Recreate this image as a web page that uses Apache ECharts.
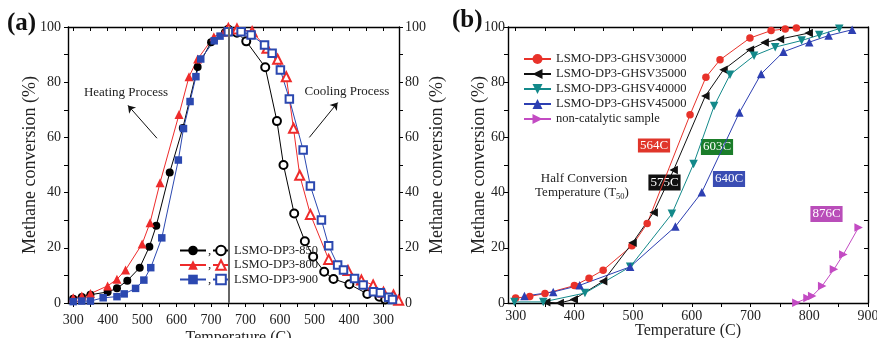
<!DOCTYPE html>
<html><head><meta charset="utf-8">
<script src="https://cdn.jsdelivr.net/npm/echarts@6/dist/echarts.min.js"></script>
<style>html,body{margin:0;padding:0;background:#fff}#c{width:877px;height:338px}</style>
</head><body><div id="c"></div>
<script>
// ---------- Panel (a): heating (filled) ----------
const heat850T = [300,325,350,400,427,457,493,521,541,580,618,661,700,740];
const heat850V = [1.5,2.2,3.0,4.0,5.3,8.1,12.8,20.4,28.0,47.3,63.4,85.5,94.5,98.0];
const heat800T = [300,325,350,400,427,452,500,523,552,607,636,661,708,737];
const heat800V = [1.9,2.5,3.4,6.2,8.6,12.0,21.4,29.1,43.6,68.3,82.0,88.4,96.5,98.2];
const heat900T = [300,325,350,387,427,448,481,505,525,557,605,620,639,656,670,709,726,749];
const heat900V = [0.5,0.7,0.7,1.9,2.3,3.3,5.3,8.3,12.8,23.6,51.8,63.2,73.0,82.0,88.4,95.0,96.7,98.0];
// ---------- Panel (a): cooling (open) ----------
const cool850T = [750,725,698,643,609,590,559,528,504,472,445,399,347,312,295];
const cool850V = [99.0,97.9,94.8,85.4,65.9,50.0,32.4,22.4,16.8,11.3,8.7,6.8,3.3,2.3,1.3];
const cool800T = [750,725,681,638,607,582,561,543,512,459,403,364,330,300,271,256];
const cool800V = [99.5,99.3,98.3,92.3,88.3,82.0,63.3,46.3,32.1,15.8,11.8,8.3,6.5,3.9,2.9,1.0];
const cool900T = [750,713,684,645,623,599,573,533,512,480,459,433,416,384,359,329,309,285,274];
const cool900V = [98.3,98.3,97.1,93.5,90.5,84.4,73.9,55.4,42.4,30.1,20.7,13.8,12.0,8.9,6.5,4.1,3.7,2.1,1.3];
const PIVOT = 750;           // turning point heating -> cooling
const aTickLabels = [300,400,500,600,700,800,900,1000,1100,1200];
const aTicks = [300,350,400,450,500,550,600,650,700,750,800,850,900,950,1000,1050,1100,1150,1200];

// ---------- Panel (b) ----------
const g30T = [300,324,350,400,425,449,498,524,597,624,648,699,735,759,778];
const g30V = [1.8,2.4,3.4,6.3,9.0,11.9,20.7,28.8,68.2,81.8,88.1,96.0,98.7,99.3,99.6];
const g35T = [352,375,399,449,499,535,569,623,654,699,724,750,799];
const g35V = [0.3,0.0,1.3,7.9,21.8,32.8,48.2,75.0,84.5,91.8,94.4,95.6,97.8];
const g40T = [298,347,418,495,566,603,638,665,706,742,787,817,851];
const g40V = [0.4,0.4,3.6,13.1,32.3,50.4,71.4,82.7,89.6,92.7,95.1,97.1,99.4];
const g45T = [315,364,409,495,572,617,681,718,756,800,833,873];
const g45V = [2.5,4.0,6.4,13.1,27.7,40.1,69.0,83.0,91.0,94.5,96.9,99.0];
const ncT = [778,797,805,822,842,858,884];
const ncV = [0.1,1.8,2.5,6.2,12.2,17.6,27.4];
const bTickLabels = [300,400,500,600,700,800,900];
const bTicks = [300,350,400,450,500,550,600,650,700,750,800,850,900];
const yLabels = [0,20,40,60,80,100];
const yTicks = [0,10,20,30,40,50,60,70,80,90,100];

const FONT = 'Liberation Serif';
const heatPts = (T,V) => T.map((t,i)=>[t,V[i]]);
const coolPts = (T,V) => T.map((t,i)=>[2*PIVOT - t, V[i]]);
const pts = (T,V) => T.map((t,i)=>[t,V[i]]);

const cA = {k:'#000000', r:'#ee2b2b', b:'#2b48b0'};
const cB = {r:'#e8322a', k:'#111111', t:'#13898a', b:'#2d3fb2', m:'#c34bc3'};

const axisLineS = {lineStyle:{color:'#000', width:1.4}, onZero:false};
const labelS = {fontFamily:FONT, fontSize:14, color:'#222'};
const nameS = {fontFamily:FONT, fontSize:18, color:'#222'};

function lineSeries(name, data, color, symbol, size, xi, yi, extra) {
  return Object.assign({
    name, type:'line', data, xAxisIndex:xi, yAxisIndex:yi,
    symbol, symbolSize:size, showSymbol:true,
    lineStyle:{color, width:1}, itemStyle:{color},
    emphasis:{disabled:true}, z:3
  }, extra||{});
}

const chart = echarts.init(document.getElementById('c'), null, {renderer:'canvas'});
const option = {
  animation:false,
  backgroundColor:'#fff',
  grid:[
    {left:68, right:478, top:27, bottom:35, outerBoundsMode:'none', containLabel:false},
    {left:508, right:9, top:27, bottom:35, outerBoundsMode:'none', containLabel:false}
  ],
  xAxis:[
    {gridIndex:0, type:'value', min:285, max:1245, position:'bottom',
     axisLine:axisLineS, splitLine:{show:false},
     axisTick:{customValues:aTicks, length:4, lineStyle:{color:'#000'}},
     axisLabel:Object.assign({customValues:aTickLabels, margin:10,
       formatter:v => (v<=PIVOT ? v : 2*PIVOT - v)}, labelS),
     name:'Temperature (C)', nameLocation:'middle', nameGap:27, nameMoveOverlap:false,
     nameTextStyle:Object.assign({}, nameS, {fontSize:16, padding:[0,0,0,10]})},
    {gridIndex:0, type:'value', min:285, max:1245, position:'top',
     axisLine:axisLineS, splitLine:{show:false},
     axisTick:{customValues:aTicks, inside:true, length:4, lineStyle:{color:'#000'}},
     axisLabel:{show:false}},
    {gridIndex:1, type:'value', min:287, max:900, position:'bottom',
     axisLine:axisLineS, splitLine:{show:false},
     axisTick:{customValues:bTicks, length:4, lineStyle:{color:'#000'}},
     axisLabel:Object.assign({customValues:bTickLabels, margin:6}, labelS),
     name:'Temperature (C)', nameLocation:'middle', nameGap:19.5, nameMoveOverlap:false,
     nameTextStyle:Object.assign({}, nameS, {fontSize:16})},
    {gridIndex:1, type:'value', min:287, max:900, position:'top',
     axisLine:axisLineS, splitLine:{show:false},
     axisTick:{customValues:bTicks, inside:true, length:4, lineStyle:{color:'#000'}},
     axisLabel:{show:false}}
  ],
  yAxis:[
    {gridIndex:0, type:'value', min:0, max:100, position:'left',
     axisLine:axisLineS, splitLine:{show:false},
     axisTick:{customValues:yTicks, length:4, lineStyle:{color:'#000'}},
     axisLabel:Object.assign({customValues:yLabels, margin:7}, labelS),
     name:'Methane conversion (%)', nameLocation:'middle', nameGap:29, nameMoveOverlap:false, nameTextStyle:nameS},
    {gridIndex:0, type:'value', min:0, max:100, position:'right',
     axisLine:axisLineS, splitLine:{show:false},
     axisTick:{customValues:yTicks, length:4, lineStyle:{color:'#000'}},
     axisLabel:Object.assign({customValues:yLabels, margin:6}, labelS),
     name:'Methane conversion (%)', nameLocation:'middle', nameGap:29, nameMoveOverlap:false, nameTextStyle:nameS},
    {gridIndex:1, type:'value', min:0, max:100, position:'left',
     axisLine:axisLineS, splitLine:{show:false},
     axisTick:{customValues:yTicks, length:4, lineStyle:{color:'#000'}},
     axisLabel:Object.assign({customValues:yLabels, margin:3}, labelS),
     name:'Methane conversion (%)', nameLocation:'middle', nameGap:20, nameMoveOverlap:false, nameTextStyle:nameS},
    {gridIndex:1, type:'value', min:0, max:100, position:'right',
     axisLine:axisLineS, splitLine:{show:false},
     axisTick:{customValues:yTicks, inside:true, length:4, lineStyle:{color:'#000'}},
     axisLabel:{show:false}}
  ],
  legend:[
    {data:['heat850','heat800','heat900'], orient:'vertical', left:179, top:244, padding:0,
     itemWidth:26, itemHeight:12, itemGap:1.5, formatter:()=>',', selectedMode:false,
     textStyle:{fontFamily:FONT, fontSize:13, color:'#222', lineHeight:13, padding:[0,0,0,-3]}},
    {data:['LSMO-DP3-850','LSMO-DP3-800','LSMO-DP3-900'], orient:'vertical', left:212, top:244, padding:0,
     itemWidth:16, itemHeight:12, itemGap:1.5, selectedMode:false,
     textStyle:{fontFamily:FONT, fontSize:12.5, color:'#222', lineHeight:13}},
    {data:['LSMO-DP3-GHSV30000','LSMO-DP3-GHSV35000','LSMO-DP3-GHSV40000','LSMO-DP3-GHSV45000','non-catalytic sample'],
     orient:'vertical', left:523, top:52.5, padding:0, selectedMode:false,
     itemWidth:27, itemHeight:12.5, itemGap:2, 
     textStyle:{fontFamily:FONT, fontSize:12.5, color:'#222', lineHeight:13}}
  ],
  series:[
    lineSeries('heat850', heatPts(heat850T, heat850V), cA.k, 'circle', 8, 0, 0, {
      markLine:{silent:true, symbol:['none','none'], label:{show:false},
        lineStyle:{color:'#666', width:2, type:'solid'}, data:[{xAxis:PIVOT}]}}),
    lineSeries('heat800', heatPts(heat800T, heat800V), cA.r, 'triangle', 9, 0, 0),
    lineSeries('heat900', heatPts(heat900T, heat900V), cA.b, 'rect', 7.5, 0, 0, {
      markLine:{silent:true, symbol:['none','arrow'], symbolSize:7, label:{show:false},
        lineStyle:{color:'#111', width:1, type:'solid'},
        data:[
          [{coord:[543,59.7]},{coord:[459,71.6]}],
          [{coord:[985,60]},{coord:[1067,72.6]}]
        ]}}),
    lineSeries('LSMO-DP3-850', coolPts(cool850T, cool850V), cA.k, 'emptyCircle', 8, 0, 0),
    lineSeries('LSMO-DP3-800', coolPts(cool800T, cool800V), cA.r, 'emptyTriangle', 9, 0, 0),
    lineSeries('LSMO-DP3-900', coolPts(cool900T, cool900V), cA.b, 'emptyRect', 7.5, 0, 0),

    lineSeries('LSMO-DP3-GHSV30000', pts(g30T, g30V), cB.r, 'circle', 7.5, 2, 2),
    lineSeries('LSMO-DP3-GHSV35000', pts(g35T, g35V), cB.k, 'triangle', 8.5, 2, 2, {symbolRotate:90}),
    lineSeries('LSMO-DP3-GHSV40000', pts(g40T, g40V), cB.t, 'triangle', 8.5, 2, 2, {symbolRotate:180}),
    lineSeries('LSMO-DP3-GHSV45000', pts(g45T, g45V), cB.b, 'triangle', 8.5, 2, 2),
    lineSeries('non-catalytic sample', pts(ncT, ncV), cB.m, 'triangle', 8.5, 2, 2, {symbolRotate:-90})
  ],
  graphic:[
    {type:'text', x:7, y:11, style:{text:'(a)', font:'bold 25px "Liberation Serif"', fill:'#111'}},
    {type:'text', x:452, y:8, style:{text:'(b)', font:'bold 25px "Liberation Serif"', fill:'#111'}},
    {type:'text', x:126, y:93, style:{text:'Heating Process', font:'13px "Liberation Serif"', fill:'#222', align:'center', verticalAlign:'middle'}},
    {type:'text', x:347, y:92, style:{text:'Cooling Process', font:'13px "Liberation Serif"', fill:'#222', align:'center', verticalAlign:'middle'}},
    {type:'text', x:584, y:179, style:{text:'Half Conversion', font:'13px "Liberation Serif"', fill:'#222', align:'center', verticalAlign:'middle'}},
    {type:'text', x:582, y:193, style:{text:'Temperature (T{s|50})', font:'13px "Liberation Serif"', fill:'#222', align:'center', verticalAlign:'middle',
      rich:{s:{fontSize:8.5, fontFamily:FONT, fill:'#222', padding:[7,0,0,0]}}}},
    {type:'text', x:654, y:145.5, style:{text:'564C', font:'13px "Liberation Serif"', fill:'#fff', align:'center', verticalAlign:'middle', backgroundColor:'#e0352a', padding:[1,2,0,2]}},
    {type:'text', x:717, y:147, style:{text:'603C', font:'13px "Liberation Serif"', fill:'#fff', align:'center', verticalAlign:'middle', backgroundColor:'#1b7d2a', padding:[2,2,1,2]}},
    {type:'text', x:664.5, y:182.5, style:{text:'575C', font:'13px "Liberation Serif"', fill:'#fff', align:'center', verticalAlign:'middle', backgroundColor:'#111', padding:[2,2,1,2]}},
    {type:'text', x:729, y:179, style:{text:'640C', font:'13px "Liberation Serif"', fill:'#fff', align:'center', verticalAlign:'middle', backgroundColor:'#3a4db3', padding:[2,2,1,2]}},
    {type:'text', x:826.5, y:214, style:{text:'876C', font:'13px "Liberation Serif"', fill:'#fff', align:'center', verticalAlign:'middle', backgroundColor:'#b94db9', padding:[2,2,1,2]}}
  ]
};
chart.setOption(option);
</script>
</body></html>
